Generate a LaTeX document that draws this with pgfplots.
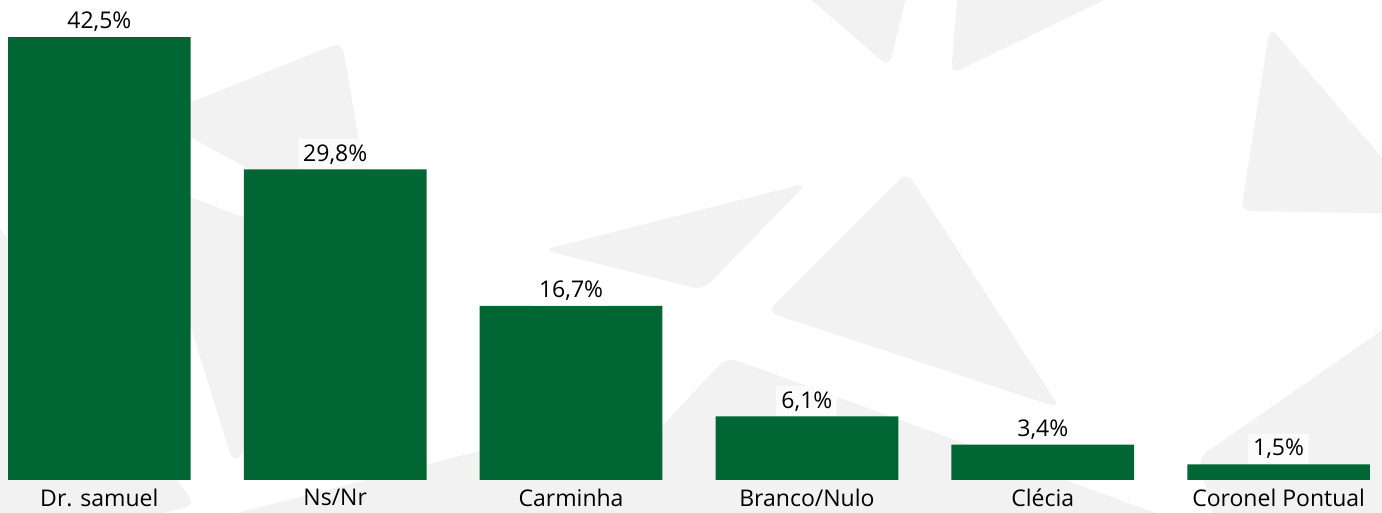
\documentclass[border=0pt]{standalone}
\usepackage{pgfplots}
\pgfplotsset{compat=1.18}
\usepackage{fontspec}
\setmainfont{Open Sans}
\definecolor{bargreen}{HTML}{006633}
\definecolor{wm}{HTML}{F2F2F2}
\begin{document}
\begin{tikzpicture}
% faint watermark triangles (background decoration), pixel grid of the reference
\begin{scope}[shift={(0,240pt)}, x=0.5pt, y=-0.5pt]
\clip (0,0) rectangle (1382,513);
\fill[wm, rounded corners=5pt] (154,117) -- (342,42) -- (376,239) -- cycle;
\fill[wm, rounded corners=5pt] (145,180) -- (420,284) -- (233,463) -- cycle;
\fill[wm, rounded corners=5pt] (-20,200) -- (195,505) -- (-20,560) -- cycle;
\fill[wm, rounded corners=5pt] (190,525) -- (620,415) -- (640,560) -- cycle;
\fill[wm, rounded corners=5pt] (727,357) -- (1230,540) -- (555,540) -- cycle;
\fill[wm, rounded corners=5pt] (543,250) -- (807,183) -- (703,290) -- cycle;
\fill[wm, rounded corners=5pt] (767,312) -- (907,172) -- (1060,408) -- cycle;
\fill[wm, rounded corners=5pt] (800,-10) -- (908,-10) -- (889,67) -- cycle;
\fill[wm, rounded corners=5pt] (958,-10) -- (1125,-10) -- (951,74) -- cycle;
\fill[wm, rounded corners=5pt] (1270,27) -- (1430,214) -- (1241,211) -- cycle;
\fill[wm, rounded corners=5pt] (1198,458) -- (1440,290) -- (1440,560) -- (1225,560) -- cycle;
\end{scope}
\begin{axis}[
  at={(0,0)}, anchor=south west,
  scale only axis,
  width=691pt, height=240pt,
  xmin=-0.4213, xmax=5.4383,
  ymin=0, ymax=46.06,
  axis line style={draw=none},
  major tick length=0pt,
  ytick=\empty,
  xtick={0,1,2,3,4,5},
  xticklabels={Dr. samuel,Ns/Nr,Carminha,Branco/Nulo,Clécia,Coronel Pontual},
  xticklabel style={font=\fontsize{11.5}{13}\selectfont, text=black, yshift=-1pt},
  ybar, bar width=0.7745,
  bar shift=0pt,
  point meta=explicit symbolic,
  nodes near coords,
  every node near coord/.append style={font=\fontsize{11.5}{13}\selectfont, text=black,
     inner sep=2.5pt, fill=white, fill opacity=0.7, text opacity=1},
  clip=false,
]
\addplot[fill=bargreen, draw=none] coordinates {
 (0,42.5) [42,5\%]
 (1,29.8) [29,8\%]
 (2,16.7) [16,7\%]
 (3,6.1) [6,1\%]
 (4,3.4) [3,4\%]
 (5,1.5) [1,5\%]
};
\end{axis}
\pgfresetboundingbox
\path (0,-16.5pt) rectangle (691pt,240pt);
\end{tikzpicture}
\end{document}
